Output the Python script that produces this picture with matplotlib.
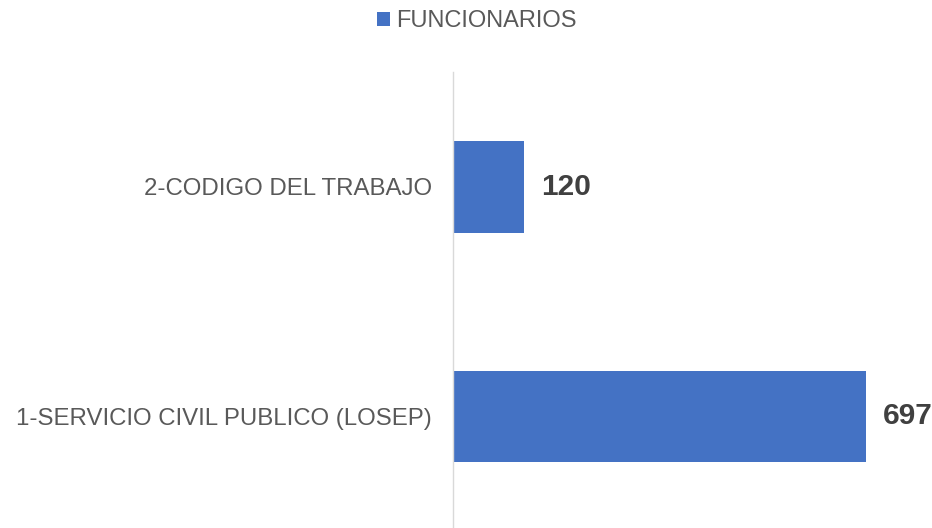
import matplotlib
matplotlib.use("Agg")
import matplotlib.pyplot as plt

categories = ["1-SERVICIO CIVIL PUBLICO (LOSEP)", "2-CODIGO DEL TRABAJO"]
values = [697, 120]
series_name = "FUNCIONARIOS"

plt.rcParams['font.family'] = ['Liberation Sans', 'DejaVu Sans']

fig = plt.figure(figsize=(9.32, 5.28), dpi=100)
ax = fig.add_axes([453/932, 0, (932-453)/932, 1-72/528])

bar_color = "#4472C4"
bars = ax.barh(range(len(categories)), values, height=0.4, color=bar_color, label=series_name)

ax.set_xlim(0, 479/(413/697))
ax.set_ylim(-0.486, 1.501)

for i, v in enumerate(values):
    ax.annotate(str(v), xy=(v, i), xytext=(12.5, 0), textcoords="offset points",
                ha="left", va="center", fontsize=21.5, fontweight="bold", color="#404040")

ax.set_yticks(range(len(categories)))
ax.set_yticklabels(categories, fontsize=17.3, color="#595959")
ax.tick_params(axis="y", length=0, pad=15)
ax.set_xticks([])
for s in ["top", "right", "bottom"]:
    ax.spines[s].set_visible(False)
ax.spines["left"].set_color("#D9D9D9")
ax.spines["left"].set_linewidth(1.0)

fig.legend(handles=[bars], labels=[series_name], loc="center", bbox_to_anchor=(477/932, 1-21/528),
           frameon=False, fontsize=17, handlelength=0.55, handleheight=0.55, handletextpad=0.25,
           labelcolor="#595959")

fig.savefig("out.png", dpi=100)
